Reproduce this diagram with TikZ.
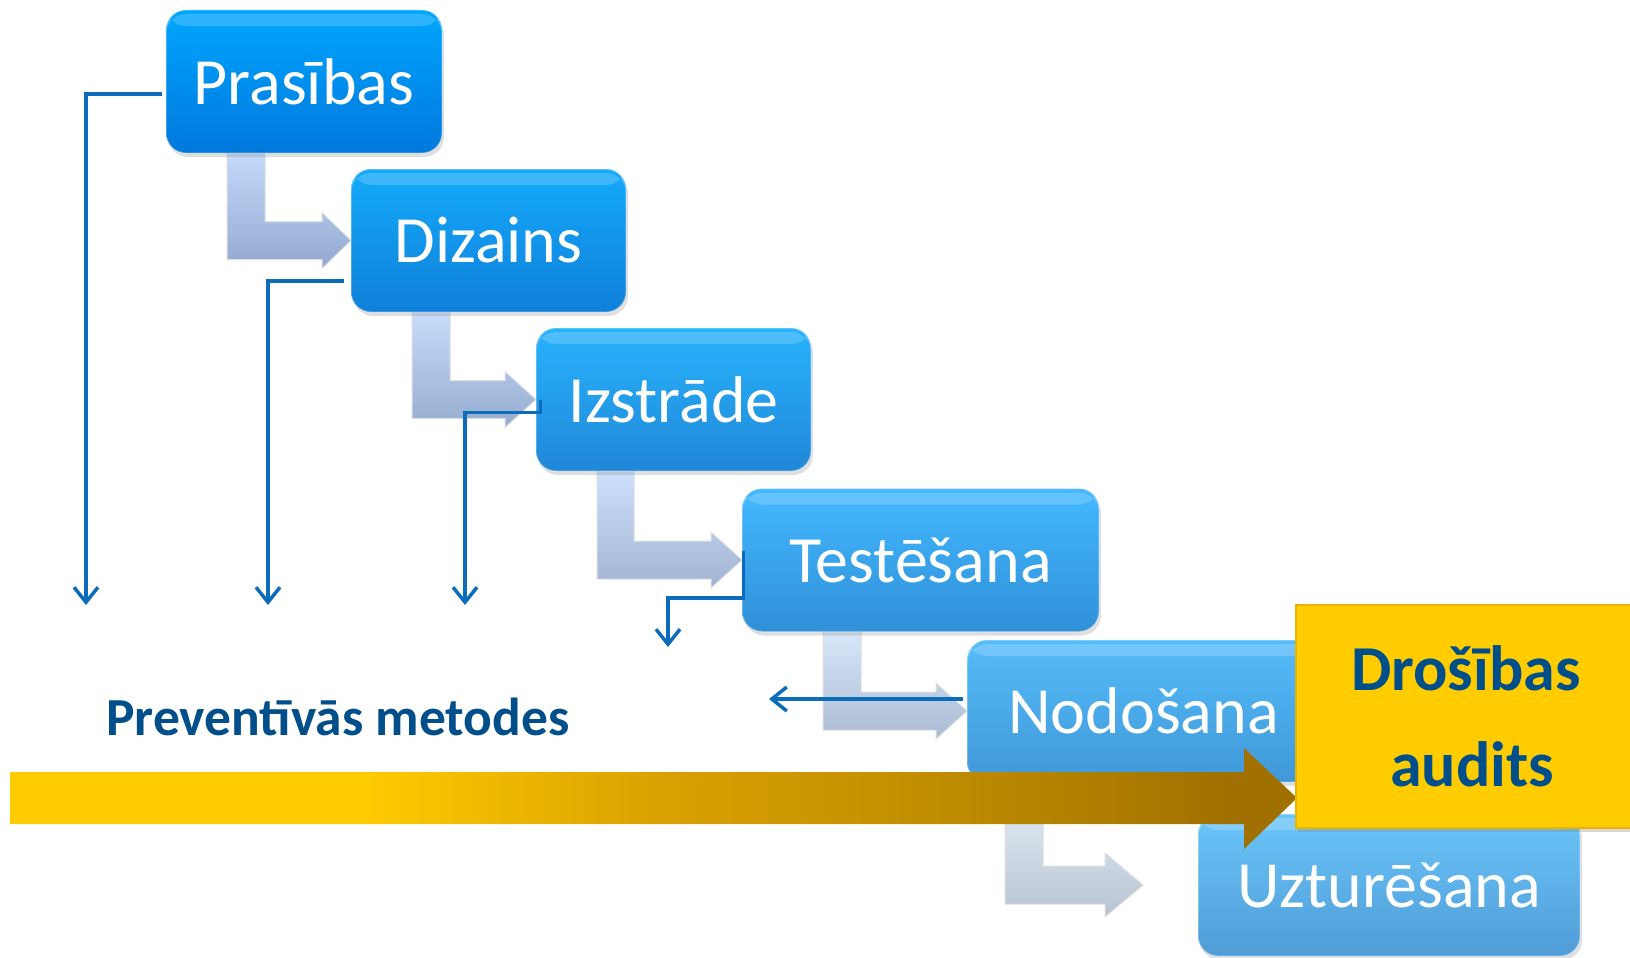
\documentclass[tikz,border=0pt]{standalone}
\usepackage{fontspec}
\setmainfont{Carlito}
\usetikzlibrary{arrows.meta,shadows}

\definecolor{fbblue}{HTML}{0B6CBC}
\definecolor{txtblue}{HTML}{004E8A}
\definecolor{gold1}{HTML}{FFCC00}
\definecolor{gold2}{HTML}{A07000}
\definecolor{pA}{RGB}{0,166,255}   \definecolor{pB}{RGB}{0,120,220}
\definecolor{dA}{RGB}{20,170,250}  \definecolor{dB}{RGB}{16,128,218}
\definecolor{iA}{RGB}{40,178,252}  \definecolor{iB}{RGB}{32,136,216}
\definecolor{tA}{RGB}{66,184,255}  \definecolor{tB}{RGB}{48,144,216}
\definecolor{nA}{RGB}{85,188,250}  \definecolor{nB}{RGB}{64,152,216}
\definecolor{uA}{RGB}{106,198,250} \definecolor{uB}{RGB}{80,156,214}
\definecolor{a1A}{RGB}{196,218,250} \definecolor{a1B}{RGB}{146,168,208}
\definecolor{a2A}{RGB}{200,220,250} \definecolor{a2B}{RGB}{150,172,208}
\definecolor{a3A}{RGB}{206,224,250} \definecolor{a3B}{RGB}{160,180,210}
\definecolor{a4A}{RGB}{216,232,250} \definecolor{a4B}{RGB}{170,186,210}
\definecolor{a5A}{RGB}{232,240,248} \definecolor{a5B}{RGB}{184,196,210}
\definecolor{goldmid}{RGB}{218,162,0}
\definecolor{golddark}{RGB}{188,138,0}
% path is mapped onto 25bp..75bp of the shading
\pgfdeclarehorizontalshading{goldbar}{100bp}{color(0bp)=(gold1); color(38.5bp)=(gold1);
	color(50bp)=(goldmid); color(62.5bp)=(golddark); color(72.5bp)=(gold2); color(100bp)=(gold2)}

\tikzset{
	stage/.style={rounded corners=20pt, minimum height=143pt, text=white, inner sep=0pt,
		font=\fontsize{66}{76}\selectfont,
		draw=white, draw opacity=0.25, line width=1.5pt,
		path picture={\fill[white, opacity=0.18] ([yshift=-4pt]path picture bounding box.north west) rectangle ([yshift=-16pt]path picture bounding box.north east);},
		drop shadow={opacity=0.25, shadow xshift=2pt, shadow yshift=-4pt}},
	bentarrow/.style={draw=white!75!gray, line width=1pt},
	fb/.style={draw=fbblue, line width=3.5pt, -{Straight Barb[length=15pt,width=24pt,line width=3.5pt]}},
	audit/.style={fill=gold1, draw=gold1!75!gold2, line width=2pt, text=txtblue, align=center,
		minimum width=340pt, minimum height=223pt, font=\bfseries\fontsize{64}{96}\selectfont,
		drop shadow={opacity=0.3, shadow xshift=2pt, shadow yshift=-4pt}},
}

\begin{document}
\begin{tikzpicture}[x=1pt,y=-1pt]
	\useasboundingbox (0,0) rectangle (1630,958);
	
	%Bent arrows between stages
	\path[bentarrow, top color=a1A, bottom color=a1B] (227,153) -- (227,259.5) -- (322,259.5) -- (322,268.5) -- (351,240.5) -- (322,212.5) -- (322,221.5) -- (265,221.5) -- (265,153) -- cycle;
	\path[bentarrow, top color=a2A, bottom color=a2B] (412,312) -- (412,418.5) -- (505,418.5) -- (505,427.5) -- (536,399.5) -- (505,371.5) -- (505,380.5) -- (450,380.5) -- (450,312) -- cycle;
	\path[bentarrow, top color=a3A, bottom color=a3B] (597,471) -- (597,579) -- (711,579) -- (711,588) -- (742,560) -- (711,532) -- (711,541) -- (634,541) -- (634,471) -- cycle;
	\path[bentarrow, top color=a4A, bottom color=a4B] (823,631) -- (823,730) -- (936,730) -- (936,739) -- (967,711) -- (936,683) -- (936,692) -- (861,692) -- (861,631) -- cycle;
	\path[bentarrow, top color=a5A, bottom color=a5B] (1005,782) -- (1005,904) -- (1105,904) -- (1105,917) -- (1143,885) -- (1105,853) -- (1105,866) -- (1043,866) -- (1043,782) -- cycle;
	
	%Stages
	\node[stage, top color=pA, bottom color=pB, minimum width=276pt] (prasibas) at (304,81.5) {Prasības};
	\node[stage, top color=dA, bottom color=dB, minimum width=275pt] (dizains) at (488.5,240.5) {Dizains};
	\node[stage, top color=iA, bottom color=iB, minimum width=275pt] (izstrade) at (673.5,399.5) {Izstrāde};
	\node[stage, top color=tA, bottom color=tB, minimum width=357pt] (testesana) at (920.5,560) {Testēšana};
	\node[stage, top color=nA, bottom color=nB, minimum width=353pt, minimum height=142pt] (nodosana) at (1143.5,711) {Nodošana};
	\node[stage, top color=uA, bottom color=uB, minimum width=382pt, minimum height=142pt] (uzturesana) at (1389,885) {Uzturēšana};
	
	%Feedback lines
	\coordinate (d1) at (86,605);
	\coordinate (d2) at (268,605);
	\coordinate (d3) at (465,605);
	\coordinate (d4) at (668,647);
	\coordinate (d5) at (769,699);
	\draw[fb] ([xshift=-3pt,yshift=-12.5pt]prasibas.west) -| (d1);
	\draw[fb] ([xshift=-6pt,yshift=-40.5pt]dizains.west) -| (d2);
	\draw[fb] ([xshift=5pt]izstrade.west) -- ++(0,13) -| (d3);
	\draw[fb] ([xshift=2pt,yshift=9pt]testesana.west) -- ++(0,47) -| (d4);
	\draw[fb] ([xshift=-3pt,yshift=12pt]nodosana.west) -- (d5);
	
	%Gold arrow
	\shade[shading=goldbar] (10,772) -- (1244,772) -- (1244,748) -- (1297,798) -- (1244,849) -- (1244,824) -- (10,824) -- cycle;
	
	% Text Node
	\node[audit] (audits) at (1466,716.5) {Drošības\\\hspace*{12pt}audits};
	% Text Node
	\node[text=txtblue, font=\bfseries\fontsize{53.5}{60}\selectfont] (metodes) at (338,717) {Preventīvās metodes};
\end{tikzpicture}
\end{document}
